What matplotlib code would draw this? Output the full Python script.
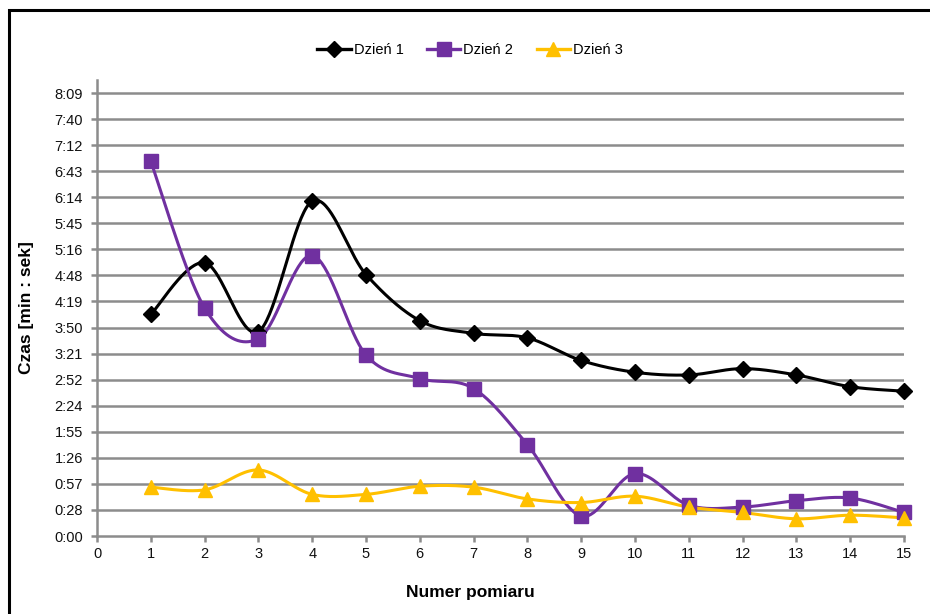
import numpy as np
import matplotlib
matplotlib.use("Agg")
import matplotlib.pyplot as plt
from matplotlib.lines import Line2D
from matplotlib.patches import Rectangle

plt.rcParams['font.family'] = ['Liberation Sans', 'DejaVu Sans']

# Measurement numbers and times (seconds)
pomiar = list(range(1, 16))
dzien1 = [245, 302, 226, 370, 289, 238, 224, 219, 194, 181, 178, 185, 178, 165, 160]
dzien2 = [414, 252, 218, 310, 200, 174, 163, 101, 22, 69, 34, 32, 39, 42, 26]
dzien3 = [54, 51, 73, 46, 46, 55, 54, 41, 37, 44, 32, 26, 19, 23, 20]

series_names = ["Dzień 1", "Dzień 2", "Dzień 3"]

# Y axis ticks: steps of 0.02 day (28.8 s), shown as m:ss
y_tick_labels = ["0:00", "0:28", "0:57", "1:26", "1:55", "2:24", "2:52", "3:21", "3:50",
                 "4:19", "4:48", "5:16", "5:45", "6:14", "6:43", "7:12", "7:40", "8:09"]
y_step = 28.8
y_max = 504.0  # 0.35 day
x_ticks = list(range(0, 16))


def smooth(xs, ys, n=40):
    """Catmull-Rom style cubic Bezier smoothing through all points."""
    pts = np.column_stack([xs, ys]).astype(float)
    P = np.vstack([pts[0], pts, pts[-1]])
    t = np.linspace(0, 1, n)[:, None]
    out = []
    for i in range(1, len(P) - 2):
        p0, p1, p2, p3 = P[i - 1], P[i], P[i + 1], P[i + 2]
        c1 = p1 + (p2 - p0) / 6.0
        c2 = p2 - (p3 - p1) / 6.0
        seg = ((1 - t) ** 3) * p1 + 3 * ((1 - t) ** 2) * t * c1 + 3 * (1 - t) * t ** 2 * c2 + t ** 3 * p2
        out.append(seg if i == 1 else seg[1:])
    seg = np.vstack(out)
    return seg[:, 0], seg[:, 1]


fig = plt.figure(figsize=(9.3, 6.14), dpi=100)
ax = fig.add_axes([97 / 930, 1 - 536 / 614, (904 - 97) / 930, (536 - 80) / 614])

grid_col = "#8c8c8c"
styles = [
    ("#000000", "D", 8.5),
    ("#7030A0", "s", 9.5),
    ("#FFC000", "^", 10),
]

for vals, (col, mk, ms) in zip([dzien1, dzien2, dzien3], styles):
    sx, sy = smooth(pomiar, vals)
    ax.plot(sx, sy, color=col, lw=2.2, zorder=3, clip_on=False, solid_capstyle='round')
    ax.plot(pomiar, vals, linestyle='none', marker=mk, markersize=ms, color=col,
            markeredgecolor=col, zorder=4, clip_on=False)

ax.set_xlim(0, 15)
ax.set_ylim(0, y_max)
ax.set_xticks(x_ticks)
ax.set_xticklabels([str(v) for v in x_ticks])
ax.set_yticks([i * y_step for i in range(len(y_tick_labels))])
ax.set_yticklabels(y_tick_labels)

for yv in [i * y_step for i in range(1, len(y_tick_labels))]:
    ax.axhline(yv, color=grid_col, lw=1.8, zorder=1)

for s in ["top", "right"]:
    ax.spines[s].set_visible(False)
for s in ["left", "bottom"]:
    ax.spines[s].set_color(grid_col)
    ax.spines[s].set_linewidth(1.8)
ax.tick_params(axis='both', colors=grid_col, width=1.8, length=4, direction='out',
               labelcolor='#111111', labelsize=10.5)
ax.tick_params(axis='y', pad=6)
ax.tick_params(axis='x', pad=4)

fig.text(27 / 930, 1 - 308 / 614, "Czas [min : sek]", rotation=90, ha='center', va='center',
         fontsize=12.5, fontweight='bold', color='#000000')
fig.text(470 / 930, 1 - 593 / 614, "Numer pomiaru", ha='center', va='center',
         fontsize=12.5, fontweight='bold', color='#000000')

handles = [Line2D([0], [0], color=c, lw=2.4, marker=m, markersize=ms, markeredgecolor=c)
           for c, m, ms in styles]
fig.legend(handles, series_names, loc='center', bbox_to_anchor=(470 / 930, 1 - 50 / 614),
           ncol=3, frameon=False, fontsize=10.5, handlelength=2.3, handletextpad=0.2,
           columnspacing=1.6)

# chart frame (left and top edges visible)
fig.add_artist(Rectangle((9 / 930, -0.05), 1.1, 1 - 10 / 614 + 0.05, transform=fig.transFigure,
                         fill=False, edgecolor='black', lw=2.2))

fig.savefig("out.png", dpi=100, facecolor='white')
